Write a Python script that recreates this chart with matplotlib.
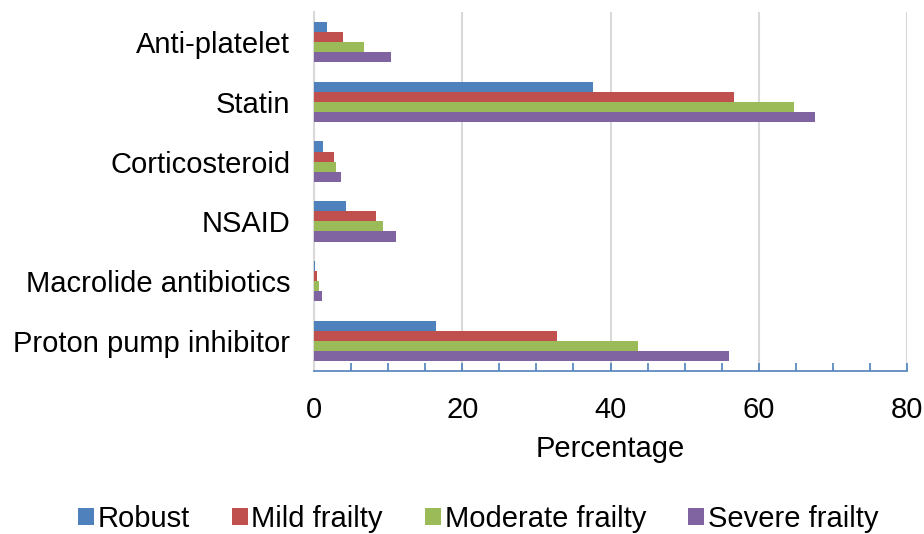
import numpy as np
import matplotlib
matplotlib.use('Agg')
import matplotlib.pyplot as plt
from matplotlib.ticker import MultipleLocator

plt.rcParams['font.family'] = ['Liberation Sans', 'DejaVu Sans']

# data (top to bottom as shown)
categories = ['Anti-platelet', 'Statin', 'Corticosteroid', 'NSAID',
              'Macrolide antibiotics', 'Proton pump inhibitor']
series = ['Robust', 'Mild frailty', 'Moderate frailty', 'Severe frailty']
robust = [1.8, 37.6, 1.2, 4.3, 0.1, 16.4]
mild = [3.9, 56.7, 2.7, 8.3, 0.35, 32.8]
moderate = [6.7, 64.7, 3.0, 9.3, 0.7, 43.7]
severe = [10.4, 67.6, 3.6, 11.1, 1.1, 56.0]
colors = ['#4F81BD', '#C0504D', '#9BBB59', '#8064A2']

fs = 21

fig = plt.figure(figsize=(9.24, 5.34), dpi=100)
ax = fig.add_axes([314 / 924, 1 - 371 / 534, 593 / 924, 359 / 534])

y = np.arange(len(categories))
h = 0.168
for i, (name, vals) in enumerate(zip(series, [robust, mild, moderate, severe])):
    ax.barh(y + (i - 1.5) * h, vals, height=h, color=colors[i],
            label=name, zorder=3)

ax.set_ylim(len(categories) - 0.5, -0.5)
ax.set_yticks(y)
ax.set_yticklabels(categories, fontsize=fs)
ax.tick_params(axis='y', length=0, pad=17)

ax.set_xlim(0, 80)
ax.xaxis.set_major_locator(MultipleLocator(20))
ax.xaxis.set_minor_locator(MultipleLocator(5))
ax.tick_params(axis='x', which='both', direction='in', length=6,
               width=1.2, color='#4F81BD', labelsize=fs, pad=18)
ax.grid(axis='x', color='#D9D9D9', linewidth=1.5, zorder=0)

for s in ['top', 'right']:
    ax.spines[s].set_visible(False)
ax.spines['left'].set_color('#D9D9D9')
ax.spines['left'].set_linewidth(1.5)
ax.spines['bottom'].set_color('#4F81BD')
ax.spines['bottom'].set_linewidth(1.2)

ax.set_xlabel('Percentage', fontsize=fs, labelpad=8)

fig.legend(loc='center', bbox_to_anchor=(478 / 924, 1 - 519 / 534),
           ncol=4, frameon=False, fontsize=fs, handlelength=0.55,
           handleheight=0.55, handletextpad=0.12, columnspacing=1.45)

fig.savefig('out.png', dpi=100)
